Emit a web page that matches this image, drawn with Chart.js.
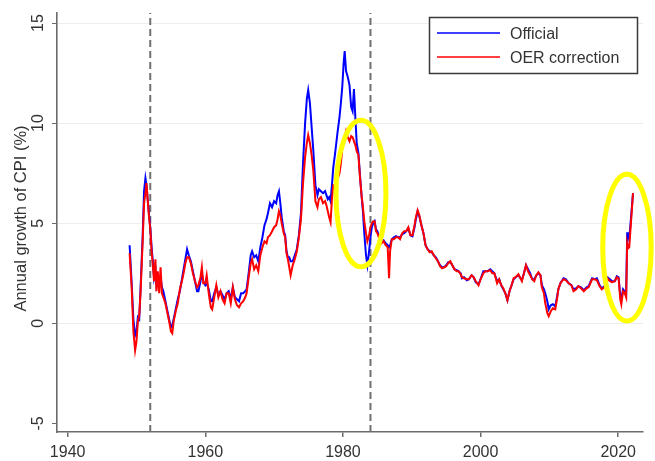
<!DOCTYPE html>
<html><head><meta charset="utf-8">
<script src="https://cdn.jsdelivr.net/npm/chart.js@4"></script>
<style>html,body{margin:0;padding:0;background:#fff}#wrap{width:655px;height:461px}</style>
</head><body><div id="wrap"><canvas id="c" width="655" height="461"></canvas></div>
<script>
const years = [
1949.0,1949.3,1949.55,1949.8,1950.0,1950.2,1950.4,1950.6,1950.9,1951.1,1951.3,1951.45,1951.6,1951.8,1952.0,1952.2,1952.4,1952.55,1952.75,1952.9,
1953.1,1953.3,1953.5,1953.7,1953.9,1954.2,1954.5,1954.8,1955.0,1955.2,1955.4,1955.7,1956.0,1956.3,1956.6,1956.9,1957.1,1957.35,1957.6,1957.9,
1958.2,1958.5,1958.8,1959.0,1959.3,1959.5,1959.7,1960.0,1960.2,1960.5,1960.8,1961.0,1961.3,1961.6,1961.9,1962.2,1962.5,1962.8,1963.1,1963.4,
1963.7,1964.0,1964.3,1964.6,1964.9,1965.2,1965.5,1965.8,1966.0,1966.3,1966.6,1966.8,1967.1,1967.4,1967.7,1968.0,1968.3,1968.6,1968.9,1969.1,
1969.4,1969.7,1970.0,1970.3,1970.5,1970.7,1970.9,1971.1,1971.4,1971.6,1971.8,1972.0,1972.2,1972.4,1972.7,1973.0,1973.3,1973.6,1973.9,1974.2,
1974.5,1974.75,1974.95,1975.2,1975.45,1975.7,1976.0,1976.3,1976.5,1976.8,1977.1,1977.4,1977.6,1977.8,1978.0,1978.2,1978.4,1978.6,1978.9,1979.2,
1979.5,1979.7,1979.9,1980.1,1980.25,1980.45,1980.7,1980.95,1981.2,1981.4,1981.6,1981.8,1982.0,1982.25,1982.45,1982.7,1982.9,1983.1,1983.35,1983.55,
1983.8,1984.0,1984.2,1984.4,1984.6,1984.8,1985.0,1985.3,1985.6,1985.9,1986.2,1986.5,1986.7,1986.85,1987.1,1987.4,1987.7,1988.0,1988.3,1988.6,
1988.9,1989.2,1989.5,1989.8,1990.1,1990.4,1990.6,1990.85,1991.1,1991.4,1991.7,1992.0,1992.3,1992.6,1992.9,1993.2,1993.5,1993.8,1994.1,1994.4,
1994.7,1995.0,1995.3,1995.6,1995.9,1996.2,1996.55,1996.8,1997.1,1997.3,1997.6,1998.0,1998.3,1998.7,1999.0,1999.3,1999.7,2000.0,2000.4,2000.7,
2001.0,2001.4,2001.7,2002.0,2002.4,2002.7,2003.0,2003.3,2003.6,2003.9,2004.2,2004.5,2004.8,2005.1,2005.5,2006.0,2006.3,2006.6,2006.9,2007.2,
2007.5,2007.8,2008.1,2008.4,2008.7,2008.9,2009.2,2009.4,2009.7,2009.9,2010.2,2010.5,2010.85,2011.1,2011.3,2011.6,2012.05,2012.4,2012.8,2013.2,
2013.5,2013.9,2014.2,2014.6,2015.0,2015.4,2015.7,2016.2,2016.6,2016.9,2017.3,2017.6,2018.0,2018.4,2018.8,2019.1,2019.5,2019.8,2020.05,2020.3,
2020.45,2020.7,2020.9,2021.15,2021.3,2021.45,2021.6,2022.15];
const official = [
3.9,2.0,0.2,-0.6,-0.4,0.3,0.2,1.8,4.4,6.6,7.25,6.9,6.3,5.5,4.8,3.8,3.0,2.3,2.7,1.9,
2.2,1.9,2.3,1.8,1.6,1.1,0.6,0.1,-0.2,-0.1,0.2,0.7,1.2,1.6,2.2,2.8,3.2,3.7,3.4,3.1,
2.6,2.1,1.6,1.6,2.1,2.5,2.1,1.9,2.0,1.7,1.1,1.1,1.5,1.8,1.4,1.6,1.4,1.2,1.5,1.6,
1.2,1.8,1.3,1.2,1.1,1.5,1.5,1.6,1.7,2.5,3.4,3.6,3.3,3.4,3.1,3.8,4.3,4.9,5.2,5.5,
6.0,5.8,6.1,6.0,6.4,6.6,6.0,5.3,4.6,4.4,3.6,3.3,3.3,3.1,3.1,3.4,3.7,4.4,5.5,8.0,
10.0,11.2,11.65,11.0,9.8,8.6,6.9,6.4,6.7,6.6,6.5,6.6,6.4,6.2,6.3,6.1,6.9,7.8,8.6,9.5,
10.3,11.0,11.8,13.0,13.6,12.6,12.3,11.9,10.8,10.6,11.7,10.3,9.0,8.5,7.5,6.4,5.6,4.5,3.4,2.9,
3.6,4.3,4.8,5.0,5.1,4.7,4.6,4.3,4.1,4.15,4.0,3.9,3.8,3.9,4.2,4.3,4.35,4.3,4.3,4.45,
4.5,4.6,4.75,4.4,4.35,4.8,5.2,5.6,5.35,4.9,4.5,3.9,3.7,3.6,3.55,3.4,3.3,3.1,2.9,2.8,
2.8,2.9,3.05,3.05,2.9,2.7,2.65,2.6,2.5,2.25,2.3,2.15,2.2,2.4,2.3,2.05,1.95,2.2,2.6,2.6,
2.6,2.7,2.6,2.5,2.1,2.2,1.9,1.7,1.5,1.15,1.6,1.9,2.2,2.3,2.4,2.15,2.5,2.9,2.7,2.5,
2.2,2.2,2.4,2.5,2.4,1.9,1.7,1.5,1.1,0.7,0.9,0.95,0.85,1.3,1.7,2.0,2.25,2.2,2.0,1.9,
1.7,1.75,1.85,1.8,1.65,1.8,1.85,2.25,2.2,2.25,1.9,1.75,1.85,2.3,2.2,2.1,2.1,2.35,2.3,1.4,
1.2,1.7,1.6,1.4,4.5,4.5,4.2,6.5];
const oerCorrection = [
3.5,1.8,-0.4,-1.35,-0.9,0.1,0.4,1.6,4.1,6.0,6.5,7.0,6.3,5.4,4.7,3.6,2.8,2.1,3.2,1.6,
2.6,1.5,2.8,1.5,1.3,1.0,0.5,0.0,-0.4,-0.5,0.1,0.6,1.0,1.7,2.1,2.6,3.0,3.3,3.3,3.0,
2.5,2.1,1.8,1.9,2.3,2.8,2.0,2.0,2.4,1.5,0.8,0.7,1.3,1.9,1.3,1.6,1.2,1.0,1.5,1.5,
1.0,1.8,1.2,0.9,0.8,1.0,1.1,1.3,1.5,2.3,3.0,3.2,2.7,2.9,2.6,3.4,3.8,4.1,4.0,4.3,
4.4,4.6,4.8,4.9,5.2,5.6,5.4,5.0,4.5,4.3,3.5,3.2,2.8,2.4,2.9,3.2,3.6,4.3,5.2,7.0,
8.3,9.0,9.4,9.0,8.4,7.6,6.1,5.8,6.2,6.3,6.0,6.1,5.9,5.6,5.3,5.05,6.2,6.9,6.9,7.2,
7.5,8.0,8.7,9.1,9.3,9.6,9.3,9.1,9.35,9.3,9.1,8.9,8.6,8.4,7.4,6.4,5.8,5.1,4.5,4.1,
4.4,4.8,5.0,5.1,5.1,4.6,4.5,4.2,4.0,4.1,3.9,3.8,2.25,3.6,4.2,4.2,4.3,4.3,4.2,4.5,
4.6,4.6,4.8,4.4,4.4,4.9,5.3,5.65,5.4,4.9,4.5,3.9,3.7,3.55,3.6,3.4,3.25,3.1,2.85,2.75,
2.8,2.85,3.0,3.1,2.9,2.7,2.6,2.6,2.45,2.3,2.25,2.2,2.2,2.4,2.3,2.1,1.9,2.2,2.5,2.6,
2.6,2.65,2.5,2.5,2.0,2.2,1.9,1.75,1.5,1.15,1.6,1.9,2.25,2.3,2.45,2.1,2.5,2.9,2.6,2.4,
2.2,2.1,2.4,2.55,2.4,1.8,1.5,1.0,0.5,0.35,0.6,0.75,0.7,1.2,1.7,2.0,2.2,2.15,2.0,1.9,
1.6,1.7,1.85,1.75,1.6,1.75,1.8,2.2,2.2,2.15,1.85,1.7,1.8,2.25,2.1,2.05,2.1,2.3,2.25,1.2,
0.95,1.6,1.55,1.3,4.0,3.75,3.8,6.5];
const seriesNames = ['Official', 'OER correction'];
const xTicks = [1940, 1960, 1980, 2000, 2020];
const yTicks = [-5, 0, 5, 10, 15];
const breakYears = [1952, 1984];
const yTitle = 'Annual growth of CPI (%)';
const X_MIN = 1938.45, X_MAX = 2023.6, Y_MIN = -5.43, Y_MAX = 15.5;
// highlighted regions (data units: centre year/value, half-width in years, half-height in %)
const circled = [
  {x: 1982.62, y: 6.48, rx: 3.63, ry: 3.66},
  {x: 2021.27, y: 3.78, rx: 3.52, ry: 3.66}
];

const FONT = '"Liberation Sans", Arial, Helvetica, sans-serif';
const TXT = '#333333';
const AXIS = '#6b6b6b';

const pts = (vals) => years.map((yr, i) => ({x: yr, y: vals[i]}));

const datasets = [
  {label: seriesNames[1], data: pts(oerCorrection), borderColor: '#ff0000', borderWidth: 2, pointRadius: 0, tension: 0, order: 0},
  {label: seriesNames[0], data: pts(official), borderColor: '#0000ff', borderWidth: 2, pointRadius: 0, tension: 0, order: 1}
];
breakYears.forEach(b => datasets.push({
  label: 'break', data: [{x: b, y: Y_MIN}, {x: b, y: Y_MAX}],
  borderColor: '#707070', borderWidth: 2, borderDash: [7, 4], pointRadius: 0, order: 2
}));

const overlay = {
  id: 'overlay',
  afterDraw(chart) {
    const ctx = chart.ctx, xs = chart.scales.x, ys = chart.scales.y, ca = chart.chartArea;
    ctx.save();
    ctx.fillStyle = TXT;
    ctx.font = '16px ' + FONT;
    // y tick labels (rotated)
    yTicks.forEach(v => {
      const py = ys.getPixelForValue(v);
      ctx.save();
      ctx.translate(43, py);
      ctx.rotate(-Math.PI / 2);
      ctx.textAlign = 'center';
      ctx.textBaseline = 'alphabetic';
      ctx.fillText(String(v), 0, 0);
      ctx.restore();
    });
    // x tick labels
    ctx.textAlign = 'center';
    ctx.textBaseline = 'alphabetic';
    xTicks.forEach(v => ctx.fillText(String(v), xs.getPixelForValue(v), 456.5));
    // y title
    ctx.save();
    ctx.translate(26, (ca.top + ca.bottom) / 2 - 4);
    ctx.rotate(-Math.PI / 2);
    ctx.textAlign = 'center';
    ctx.font = '16.5px ' + FONT;
    ctx.fillText(yTitle, 0, 0);
    ctx.restore();
    // legend
    const bw = 208, bh = 56;
    const bx = ca.right - 6 - bw, by = ca.top + 4;
    ctx.fillStyle = '#ffffff';
    ctx.fillRect(bx, by, bw, bh);
    ctx.strokeStyle = '#3a3a3a';
    ctx.lineWidth = 1.5;
    ctx.strokeRect(bx + 0.5, by + 0.5, bw, bh);
    const rows = [{c: '#0000ff', t: seriesNames[0]}, {c: '#ff0000', t: seriesNames[1]}];
    rows.forEach((r, i) => {
      const ly = by + 16 + i * 24;
      ctx.strokeStyle = r.c; ctx.lineWidth = 1.5;
      ctx.beginPath(); ctx.moveTo(bx + 8, ly); ctx.lineTo(bx + 71, ly); ctx.stroke();
      ctx.fillStyle = TXT; ctx.textAlign = 'left';
      ctx.fillText(r.t, bx + 81, ly + 6);
    });
    // highlight ellipses
    ctx.strokeStyle = '#ffff00';
    ctx.lineWidth = 5;
    circled.forEach(e => {
      const cx = xs.getPixelForValue(e.x), cy = ys.getPixelForValue(e.y);
      const rx = Math.abs(xs.getPixelForValue(e.x + e.rx) - cx);
      const ry = Math.abs(ys.getPixelForValue(e.y + e.ry) - cy);
      ctx.beginPath(); ctx.ellipse(cx, cy, rx, ry, 0, 0, Math.PI * 2); ctx.stroke();
    });
    ctx.restore();
  }
};

new Chart(document.getElementById('c'), {
  type: 'line',
  data: {datasets},
  options: {
    responsive: false, animation: false, devicePixelRatio: 1,
    layout: {padding: {top: 13, right: 12, left: 0, bottom: 0}},
    plugins: {legend: {display: false}, tooltip: {enabled: false}},
    scales: {
      x: {
        type: 'linear', min: X_MIN, max: X_MAX,
        afterBuildTicks: s => { s.ticks = xTicks.map(v => ({value: v})); },
        afterFit: s => { s.height = 29; },
        ticks: {display: false},
        grid: {drawOnChartArea: false, drawTicks: true, tickLength: 5, tickColor: AXIS, lineWidth: 1.5},
        border: {color: AXIS, width: 1.6}
      },
      y: {
        type: 'linear', min: Y_MIN, max: Y_MAX,
        afterBuildTicks: s => { s.ticks = yTicks.map(v => ({value: v})); },
        afterFit: s => { s.width = 57; },
        ticks: {display: false},
        grid: {
          color: c => (c.tick && c.tick.value === yTicks[0]) ? 'rgba(0,0,0,0)' : '#e9eff1',
          lineWidth: 1, drawTicks: true, tickLength: 5, tickColor: AXIS
        },
        border: {color: AXIS, width: 1.6}
      }
    }
  },
  plugins: [overlay]
});
</script>
</body></html>
